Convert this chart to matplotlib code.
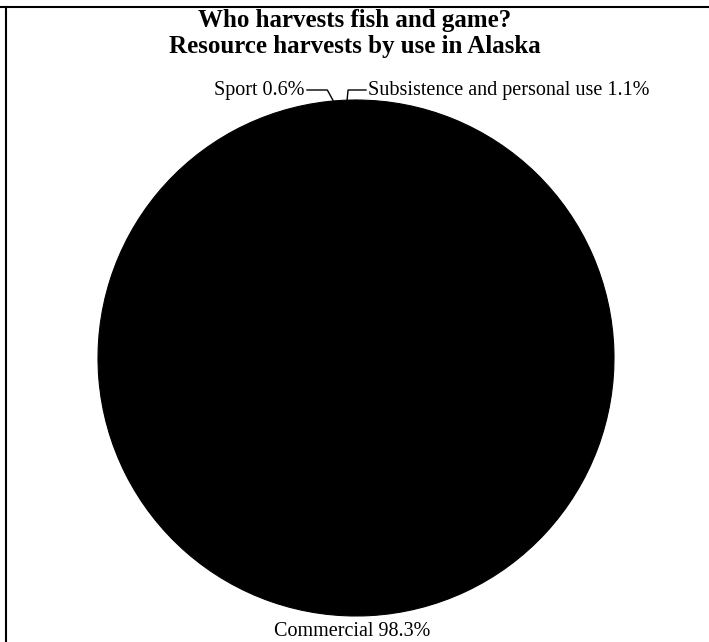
import numpy as np
import matplotlib.pyplot as plt
from matplotlib.lines import Line2D

# Resource harvests by use in Alaska (percent)
labels = ['Subsistence and personal use', 'Sport', 'Commercial']
shares = [1.1, 0.6, 98.3]

plt.rcParams['font.family'] = ['Liberation Serif', 'DejaVu Serif']

W, H = 709, 642
fig = plt.figure(figsize=(W / 100, H / 100), dpi=100)
ax = fig.add_axes([0, 0, 1, 1])

cx, cy, r = 356, H - 358, 258
wedges, _ = ax.pie(shares, startangle=90, counterclock=True, colors=['black'] * 3,
                   center=(cx, cy), radius=r, frame=True,
                   wedgeprops=dict(linewidth=0.8, edgecolor='black'))
ax.set_xlim(0, W)
ax.set_ylim(0, H)
ax.set_aspect('equal')
ax.axis('off')

def edge_point(w):
    ang = np.deg2rad((w.theta1 + w.theta2) / 2)
    return cx + r * np.cos(ang), cy + r * np.sin(ang)

lab_size = 14.5

# subsistence leader: up then right
x0, y0 = edge_point(wedges[0])
yl = H - 90
ax.plot([x0, x0 + 1, 366], [y0, yl, yl], color='black', lw=1)
ax.text(368, yl, f'{labels[0]} {shares[0]}%', ha='left', va='center', fontsize=lab_size)

# sport leader: up-left then left
x1, y1 = edge_point(wedges[1])
ax.plot([x1, x1 - 6, 307], [y1, yl, yl], color='black', lw=1)
ax.text(305, yl, f'{labels[1]} {shares[1]}%', ha='right', va='center', fontsize=lab_size)

ax.text(cx - 4, H - 631, f'{labels[2]} {shares[2]}%', ha='center', va='center', fontsize=lab_size)

fig.text(0.5, 1 - 21 / H, 'Who harvests fish and game?', ha='center', va='center',
         fontsize=18, fontweight='bold')
fig.text(0.5, 1 - 47 / H, 'Resource harvests by use in Alaska', ha='center', va='center',
         fontsize=18, fontweight='bold')

# partial frame (top and left edges)
fig.add_artist(Line2D([0, 1], [1 - 7 / H, 1 - 7 / H], transform=fig.transFigure, color='black', lw=1.5))
fig.add_artist(Line2D([6 / W, 6 / W], [0, 1 - 7 / H], transform=fig.transFigure, color='black', lw=1.5))

fig.savefig('out.png', dpi=100)
